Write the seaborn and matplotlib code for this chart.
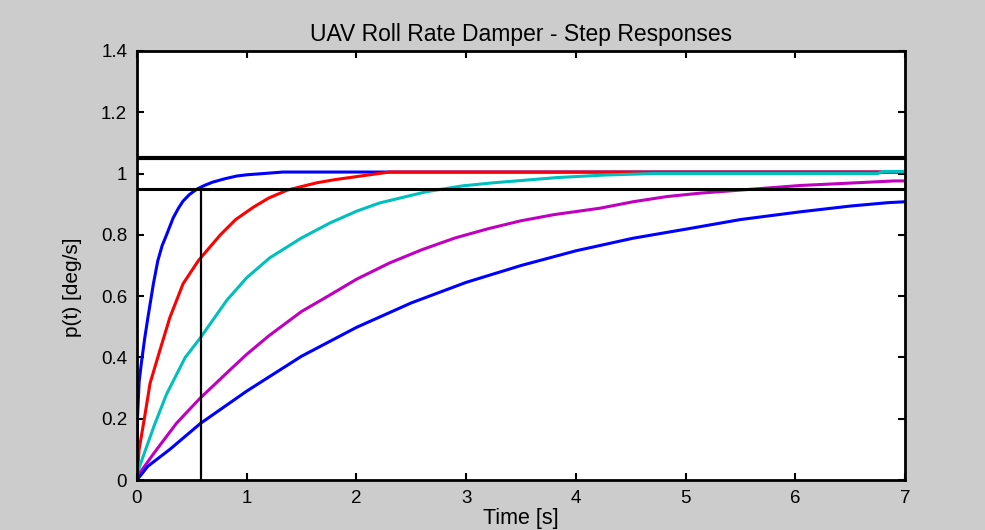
import matplotlib
matplotlib.use("Agg")
import matplotlib.pyplot as plt
import seaborn as sns

# ---- data ----
t_fast = [0, 0.005, 0.02, 0.04, 0.07, 0.10, 0.15, 0.19, 0.23, 0.27, 0.33, 0.38, 0.42, 0.48, 0.55, 0.62, 0.69, 0.80, 0.91, 1.0, 1.15, 1.33, 7.0]
p_fast = [0, 0.20, 0.32, 0.38, 0.46, 0.53, 0.64, 0.715, 0.765, 0.80, 0.855, 0.888, 0.91, 0.932, 0.95, 0.962, 0.972, 0.983, 0.992, 0.996, 1.0, 1.005, 1.005]

t_red = [0, 0.02, 0.07, 0.12, 0.21, 0.30, 0.42, 0.56, 0.76, 0.90, 1.06, 1.20, 1.37, 1.64, 1.80, 2.0, 2.3, 7.0]
p_red = [0, 0.10, 0.205, 0.316, 0.424, 0.53, 0.64, 0.716, 0.80, 0.85, 0.89, 0.92, 0.946, 0.97, 0.98, 0.99, 1.005, 1.005]

t_cyan = [0, 0.06, 0.16, 0.27, 0.44, 0.57, 0.82, 1.0, 1.21, 1.5, 1.76, 2.0, 2.21, 2.64, 2.97, 3.25, 3.49, 3.83, 4.25, 4.7, 6.75, 6.8, 7.0]
p_cyan = [0.02, 0.08, 0.18, 0.28, 0.40, 0.46, 0.587, 0.66, 0.725, 0.79, 0.839, 0.877, 0.904, 0.941, 0.96, 0.97, 0.977, 0.987, 0.995, 1.0, 1.0, 1.007, 1.007]

t_mag = [0, 0.16, 0.36, 0.57, 0.85, 1.0, 1.2, 1.5, 1.76, 2.0, 2.3, 2.6, 2.9, 3.2, 3.5, 3.8, 4.22, 4.52, 4.83, 5.13, 5.53, 6.04, 6.5, 6.9, 7.0]
p_mag = [0.01, 0.09, 0.185, 0.265, 0.36, 0.41, 0.47, 0.55, 0.604, 0.655, 0.708, 0.752, 0.79, 0.82, 0.846, 0.866, 0.887, 0.908, 0.925, 0.936, 0.947, 0.961, 0.969, 0.976, 0.976]

t_slow = [0, 0.1, 0.3, 0.58, 1.0, 1.5, 2.0, 2.5, 3.0, 3.5, 4.0, 4.52, 5.04, 5.5, 6.04, 6.5, 6.84, 7.0]
p_slow = [0, 0.045, 0.10, 0.185, 0.29, 0.404, 0.498, 0.578, 0.645, 0.70, 0.748, 0.789, 0.821, 0.85, 0.875, 0.894, 0.905, 0.908]

band_levels = [0.95, 1.05]
settle_time = 0.58

x_ticks = [0, 1, 2, 3, 4, 5, 6, 7]
y_ticks = [0, 0.2, 0.4, 0.6, 0.8, 1.0, 1.2, 1.4]
y_tick_labels = ["0", "0.2", "0.4", "0.6", "0.8", "1", "1.2", "1.4"]

series = [
    (t_fast, p_fast, "#0000ff"),
    (t_red, p_red, "#ff0000"),
    (t_cyan, p_cyan, "#00bfbf"),
    (t_mag, p_mag, "#bf00bf"),
    (t_slow, p_slow, "#0000ff"),
]

sns.set_theme(style="ticks")
plt.rcParams["font.family"] = ["Liberation Sans", "DejaVu Sans"]

fig = plt.figure(figsize=(9.85, 5.30), dpi=100, facecolor="#cccccc")
ax = fig.add_axes([0.139, 0.0943, 0.78, 0.8095])
ax.set_facecolor("white")

for t, p, c in series:
    sns.lineplot(x=t, y=p, color=c, linewidth=2.2, ax=ax, estimator=None, sort=False)

ax.axhline(band_levels[1], color="black", linewidth=3.0, zorder=5)
ax.axhline(band_levels[0], color="black", linewidth=2.2, zorder=5)
ax.plot([settle_time, settle_time], [0, band_levels[0]], color="black", linewidth=1.6, zorder=5)

ax.set_xlim(x_ticks[0], x_ticks[-1])
ax.set_ylim(y_ticks[0], y_ticks[-1])
ax.set_xticks(x_ticks)
ax.set_xticklabels([str(v) for v in x_ticks])
ax.set_yticks(y_ticks)
ax.set_yticklabels(y_tick_labels)

for s in ax.spines.values():
    s.set_visible(True)
    s.set_linewidth(2.0)
    s.set_color("black")

ax.tick_params(direction="in", length=5, width=1.5, top=True, right=True,
               labelsize=13.5, pad=7, colors="black")

ax.set_title("UAV Roll Rate Damper - Step Responses", fontsize=16.5, pad=7, color="black")
ax.set_xlabel("Time [s]", fontsize=15.5, labelpad=1, color="black")
ax.set_ylabel("p(t) [deg/s]", fontsize=15, color="black")
ax.yaxis.set_label_coords(-0.072, 0.45)

fig.savefig("out.png", dpi=100, facecolor=fig.get_facecolor())
